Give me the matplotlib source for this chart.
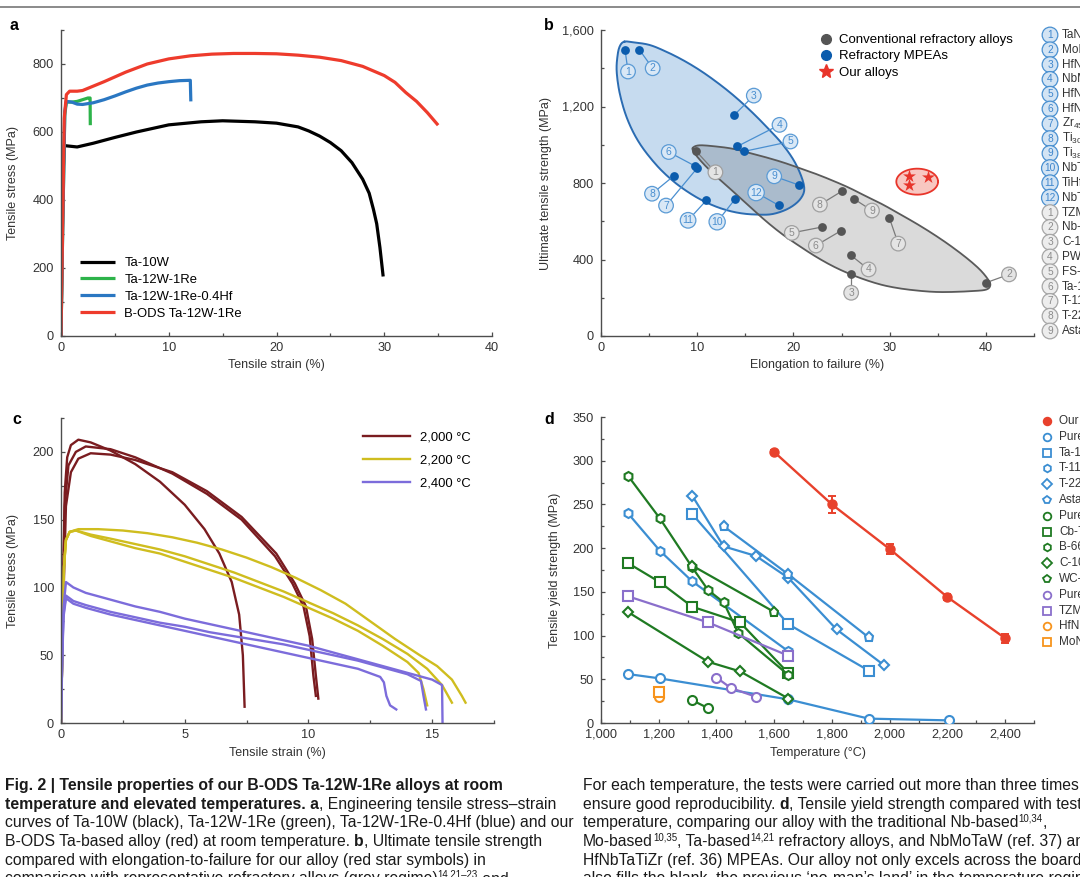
import numpy as np
import matplotlib
matplotlib.use("Agg")
import matplotlib.pyplot as plt
from matplotlib.ticker import MultipleLocator, FuncFormatter
from matplotlib.lines import Line2D
from matplotlib.font_manager import FontProperties

FAMILY = ['Liberation Sans', 'DejaVu Sans']
plt.rcParams['font.family'] = FAMILY
plt.rcParams['mathtext.fontset'] = 'custom'
plt.rcParams['mathtext.rm'] = 'Liberation Sans'

W, H = 1080, 877

# ---------------- panel a : room temperature stress-strain ----------------
a_labels = ['Ta-10W', 'Ta-12W-1Re', 'Ta-12W-1Re-0.4Hf', 'B-ODS Ta-12W-1Re']
a_colors = ['#000000', '#2db34a', '#2a77c2', '#ee3b2c']
ta10w_strain = [0, 0.1, 0.2, 0.3, 1.5, 3, 5, 7, 10, 13, 15, 18, 20, 22, 23, 24, 25, 26, 27, 28, 28.6, 29, 29.3, 29.6, 29.9]
ta10w_stress = [0, 250, 480, 560, 556, 567, 584, 600, 621, 630, 633, 630, 626, 615, 603, 588, 569, 545, 510, 461, 420, 372, 330, 260, 175]
ta12w_strain = [0, 0.15, 0.35, 0.5, 1.0, 1.5, 2.0, 2.5, 2.7, 2.72]
ta12w_stress = [0, 300, 650, 688, 688, 690, 695, 700, 700, 620]
tahf_strain = [0, 0.15, 0.35, 0.5, 1, 1.5, 2, 3, 4, 5, 6, 7, 8, 9, 10, 11, 12, 12.05]
tahf_stress = [0, 300, 660, 690, 688, 682, 681, 686, 695, 706, 718, 729, 738, 744, 748, 751, 752, 690]
ods_strain = [0, 0.15, 0.3, 0.5, 0.8, 1.5, 2, 3, 4, 5, 6, 8, 10, 12, 14, 16, 18, 20, 22, 24, 26, 28, 30, 31, 32, 33, 34, 35]
ods_stress = [0, 320, 640, 710, 720, 720, 722, 735, 748, 762, 776, 800, 815, 824, 829, 831, 831, 830, 826, 820, 810, 793, 766, 746, 716, 690, 657, 620]

# ---------------- panel b : UTS vs elongation ----------------
mpea_elong = [2.5, 4.0, 13.87, 14.15, 14.84, 9.8, 10.0, 7.59, 20.53, 13.97, 10.96, 18.48]
mpea_uts = [1496, 1496, 1157, 991, 965, 888, 878, 838, 790, 718, 710, 683]
mpea_tag_x = [2.81, 5.37, 15.88, 18.55, 19.69, 7.04, 6.76, 5.30, 18.0, 12.07, 9.05, 16.12]
mpea_tag_y = [1383, 1400, 1257, 1104, 1017, 962, 682, 744, 835, 597, 605, 750]
mpea_names = ['TaNbHfZrTi', 'MoNbTaTiZr', 'HfNbTaTiZr', 'NbMoTaW', 'HfNbTaZr', 'HfNbTiZr',
              r'Zr$_{45}$Ti$_{15}$Nb$_{30}$Ta$_{10}$', r'Ti$_{30}$Zr$_{30}$Hf$_{16}$Nb$_{24}$',
              r'Ti$_{38}$V$_{15}$Nb$_{23}$Hf$_{24}$', 'NbTaTiV', 'TiHfNbTaZr', 'NbTiZr']
conv_elong = [9.92, 39.98, 26.0, 26.0, 22.99, 24.93, 29.96, 25.03, 26.25]
conv_uts = [965, 278, 322, 421, 570, 550, 619, 757, 718]
conv_tag_x = [11.89, 42.4, 26.0, 27.81, 19.83, 22.33, 30.89, 22.75, 28.16]
conv_tag_y = [856, 322, 226, 348, 539, 473, 483, 687, 656]
conv_names = ['TZM', 'Nb-1Zr', 'C-103', 'PWC-11', 'FS-85', 'Ta-10W', 'T-111', 'T-222', 'Astar-811C']
ours_elong = [32.0, 33.98, 32.0]
ours_uts = [838, 830, 788]
# outlines of the shaded regions (read around their edges)
mpea_edge_x = [2.43, 3.29, 5.03, 6.76, 8.50, 10.23, 11.96, 13.70, 15.43, 17.16, 18.90, 20.28, 21.1,
               20.80, 19.6, 17.86, 16.12, 14.39, 12.66, 10.92, 9.19, 7.45, 5.72, 3.99, 2.77, 1.98,
               1.63, 1.73, 1.98]
mpea_edge_y = [1539, 1536, 1522, 1487, 1443, 1391, 1330, 1261, 1183, 1096, 1000, 896, 785,
               722, 670, 638, 635, 643, 664, 699, 748, 812, 896, 1009, 1130, 1261,
               1383, 1470, 1518]
conv_edge_x = [9.54, 10.23, 11.96, 13.70, 15.43, 17.16, 18.90, 20.63, 22.36, 24.10, 25.83, 27.57,
               29.30, 31.03, 32.77, 34.50, 36.23, 37.97, 39.36, 40.22, 40.46, 40.05, 38.66, 36.23,
               34.50, 32.77, 31.03, 29.30, 27.57, 25.83, 24.10, 22.36, 20.63, 18.90, 17.16, 15.43,
               13.70, 11.96, 10.58, 9.71]
conv_edge_y = [983, 997, 991, 979, 957, 934, 908, 878, 847, 812, 774, 730,
               687, 638, 588, 534, 475, 409, 348, 296, 266, 243, 235, 230,
               231, 238, 249, 266, 292, 325, 365, 414, 470, 530, 600, 678,
               757, 835, 904, 957]
ours_center = (32.86, 807)
ours_half = (2.17, 68)

# ---------------- panel c : high temperature stress-strain ----------------
c_temps = ['2,000 °C', '2,200 °C', '2,400 °C']
c_colors = ['#7a1c20', '#cfbd1f', '#7c6cdb']
c2000_strain = [
    [0, 0.08, 0.15, 0.25, 0.4, 0.7, 1.2, 2.0, 3.0, 4.0, 5.0, 5.8, 6.4, 6.9, 7.2, 7.35, 7.42],
    [0, 0.08, 0.15, 0.3, 0.6, 1.0, 2, 3, 4.5, 5.9, 7.3, 8.65, 9.35, 9.8, 10.05, 10.2, 10.3],
    [0, 0.08, 0.2, 0.4, 0.7, 1.2, 2, 3, 4.5, 5.9, 7.3, 8.7, 9.45, 9.9, 10.15, 10.3, 10.4]]
c2000_stress = [
    [0, 100, 170, 196, 205, 209, 207, 201, 191, 178, 161, 143, 125, 104, 80, 50, 12],
    [0, 90, 160, 190, 200, 204, 202, 196, 184, 169, 150, 123, 103, 86, 64, 35, 20],
    [0, 80, 160, 185, 195, 199, 198, 194, 185, 171, 152, 125, 103, 86, 62, 35, 18]]
c2200_strain = [
    [0, 0.06, 0.12, 0.2, 0.35, 0.7, 1.5, 2.5, 3.5, 4.5, 5.5, 6.5, 7.5, 8.5, 9.5, 10.5, 11.5, 12.5, 13.5, 14.5, 15.2, 15.8, 16.2, 16.35],
    [0, 0.06, 0.12, 0.2, 0.35, 0.6, 1.2, 2, 3, 4, 5, 6, 7, 8, 9, 10, 11, 12, 13, 14, 14.8, 15.4, 15.8],
    [0, 0.06, 0.12, 0.2, 0.35, 0.6, 1.2, 2, 3, 4, 5, 6, 7, 8, 9, 10, 11, 12, 13, 14, 14.45, 14.65, 14.8]]
c2200_stress = [
    [0, 60, 115, 135, 141, 143, 143, 142, 140, 137, 133, 128, 122, 115, 107, 98, 88, 75, 62, 50, 42, 32, 20, 15],
    [0, 60, 115, 135, 141, 142, 139, 136, 132, 128, 123, 117, 111, 104, 97, 89, 81, 72, 62, 51, 40, 28, 15],
    [0, 60, 115, 135, 141, 142, 138, 134, 129, 125, 119, 113, 107, 100, 93, 85, 77, 68, 57, 45, 37, 25, 13]]
c2400_strain = [
    [0, 0.05, 0.1, 0.2, 0.5, 1, 2, 3, 4, 5, 6, 7, 8, 9, 10, 11, 12, 13, 14, 15, 15.4, 15.42],
    [0, 0.05, 0.1, 0.2, 0.5, 1, 2, 3, 4, 5, 6, 7, 8, 9, 10, 11, 12, 13, 14, 14.55, 14.65, 14.75],
    [0, 0.05, 0.1, 0.2, 0.5, 1, 2, 3, 4, 5, 6, 7, 8, 9, 10, 11, 12, 12.9, 13.05, 13.15, 13.3, 13.55]]
c2400_stress = [
    [0, 50, 85, 104, 100, 96, 91, 86, 82, 77, 73, 69, 65, 61, 57, 52, 47, 42, 37, 32, 28, 0],
    [0, 50, 80, 94, 90, 87, 82, 78, 74, 71, 67, 64, 61, 58, 54, 50, 46, 41, 36, 31, 20, 10],
    [0, 45, 78, 92, 88, 85, 80, 76, 72, 68, 64, 60, 56, 52, 48, 44, 40, 34, 30, 20, 13, 10]]

# ---------------- panel d : yield strength vs temperature ----------------
ours_temp = [1600, 1800, 2000, 2200, 2400]
ours_ys = [310, 250, 199, 144, 97]
ours_err = [2, 10, 6, 3, 5]
pure_ta_temp = [1093, 1204, 1649, 1927, 2204]
pure_ta_ys = [56, 51, 27, 5, 3]
ta10w_temp = [1316, 1649, 1927]
ta10w_ys = [239, 113, 60]
t111_temp = [1093, 1204, 1316, 1649]
t111_ys = [240, 197, 162, 82]
t222_temp = [1316, 1425, 1537, 1649, 1816, 1981]
t222_ys = [260, 202, 191, 166, 107, 66]
astar_temp = [1425, 1649, 1927]
astar_ys = [225, 170, 98]
pure_nb_temp = [1316, 1371]
pure_nb_ys = [26, 17]
cb752_temp = [1093, 1204, 1316, 1482, 1649]
cb752_ys = [183, 161, 133, 115, 57]
b66_temp = [1093, 1204, 1316, 1371, 1425, 1475, 1649]
b66_ys = [283, 234, 178, 152, 138, 103, 55]
c103_temp = [1093, 1371, 1482, 1649]
c103_ys = [127, 70, 59, 28]
wc3009_temp = [1316, 1600]
wc3009_ys = [180, 127]
pure_mo_temp = [1400, 1450, 1537]
pure_mo_ys = [52, 40, 30]
tzm_temp = [1093, 1371, 1649]
tzm_ys = [145, 115, 77]
hfnb_temp = [1200]
hfnb_ys = [30]
monb_temp = [1200]
monb_ys = [35]
d_names = ['Our alloy', 'Pure Ta', 'Ta-10W', 'T-111', 'T-222', 'Astar-811C', 'Pure Nb', 'Cb-752',
           'B-66', 'C-103', 'WC-3009', 'Pure Mo', 'TZM', 'HfNbTaTiZr', 'MoNbTaW']

BLUE, GREEN, PURPLE, ORANGE, RED = '#3b8ed2', '#1f7a22', '#8a6fcb', '#f7941d', '#e8412c'
d_series = [
    (pure_ta_temp, pure_ta_ys, 'o', BLUE), (ta10w_temp, ta10w_ys, 's', BLUE),
    (t111_temp, t111_ys, 'h', BLUE), (t222_temp, t222_ys, 'D', BLUE),
    (astar_temp, astar_ys, 'p', BLUE), (pure_nb_temp, pure_nb_ys, 'o', GREEN),
    (cb752_temp, cb752_ys, 's', GREEN), (b66_temp, b66_ys, 'h', GREEN),
    (c103_temp, c103_ys, 'D', GREEN), (wc3009_temp, wc3009_ys, 'p', GREEN),
    (pure_mo_temp, pure_mo_ys, 'o', PURPLE), (tzm_temp, tzm_ys, 's', PURPLE),
    (hfnb_temp, hfnb_ys, 'o', ORANGE), (monb_temp, monb_ys, 's', ORANGE)]

# ---------------- caption ----------------
CAPTION_LEFT = [
    [('Fig. 2 | Tensile properties of our B-ODS Ta-12W-1Re alloys at room', 'b')],
    [('temperature and elevated temperatures. a', 'b'), (', Engineering tensile stress\u2013strain', 'n')],
    [('curves of Ta-10W (black), Ta-12W-1Re (green), Ta-12W-1Re-0.4Hf (blue) and our', 'n')],
    [('B-ODS Ta-based alloy (red) at room temperature. ', 'n'), ('b', 'b'), (', Ultimate tensile strength', 'n')],
    [('compared with elongation-to-failure for our alloy (red star symbols) in', 'n')],
    [('comparison with representative refractory alloys (grey regime)', 'n'), ('14,21\u201323', 'sup'), (' and', 'n')],
]
CAPTION_RIGHT = [
    [('For each temperature, the tests were carried out more than three times to', 'n')],
    [('ensure good reproducibility. ', 'n'), ('d', 'b'), (', Tensile yield strength compared with test', 'n')],
    [('temperature, comparing our alloy with the traditional Nb-based', 'n'), ('10,34', 'sup'), (',', 'n')],
    [('Mo-based', 'n'), ('10,35', 'sup'), (', Ta-based', 'n'), ('14,21', 'sup'),
     (' refractory alloys, and NbMoTaW (ref. 37) and', 'n')],
    [('HfNbTaTiZr (ref. 36) MPEAs. Our alloy not only excels across the board but', 'n')],
    [('also fills the blank, the previous \u2018no-man\u2019s land\u2019 in the temperature regime', 'n')],
]

SPINE = '#4d4d4d'
TICKTXT = '#333333'


def px_axes(fig, left, top, right, bottom):
    return fig.add_axes([left / W, 1 - bottom / H, (right - left) / W, (bottom - top) / H])


def style_axes(ax, xmaj, xmin, ymaj, ymin):
    for s in ['top', 'right']:
        ax.spines[s].set_visible(False)
    for s in ['left', 'bottom']:
        ax.spines[s].set_color(SPINE)
        ax.spines[s].set_linewidth(1.0)
    ax.xaxis.set_major_locator(MultipleLocator(xmaj))
    ax.xaxis.set_minor_locator(MultipleLocator(xmin))
    ax.yaxis.set_major_locator(MultipleLocator(ymaj))
    ax.yaxis.set_minor_locator(MultipleLocator(ymin))
    fmt = FuncFormatter(lambda v, p: f'{v:,.0f}')
    ax.xaxis.set_major_formatter(fmt)
    ax.yaxis.set_major_formatter(fmt)
    ax.tick_params(which='both', direction='in', color=SPINE, labelcolor=TICKTXT,
                   labelsize=9.2, width=0.9)
    ax.tick_params(which='major', length=3)
    ax.tick_params(which='minor', length=2)
    ax.tick_params(axis='y', pad=5)
    ax.tick_params(axis='x', pad=4)


def set_labels(ax, xl, yl, ylx, xly):
    ax.set_xlabel(xl, fontsize=9, color=TICKTXT)
    ax.set_ylabel(yl, fontsize=9, color=TICKTXT)
    ax.yaxis.set_label_coords(ylx, 0.5)
    ax.xaxis.set_label_coords(0.5, xly)


def closed_spline(xs, ys, per=10):
    # periodic Catmull-Rom curve through the outline points
    p = np.column_stack([xs, ys]).astype(float)
    n = len(p)
    t = np.linspace(0, 1, per, endpoint=False)[:, None]
    segs = []
    for i in range(n):
        p0, p1, p2, p3 = p[(i - 1) % n], p[i], p[(i + 1) % n], p[(i + 2) % n]
        segs.append(0.5 * (2 * p1 + (p2 - p0) * t + (2 * p0 - 5 * p1 + 4 * p2 - p3) * t ** 2
                           + (3 * p1 - p0 - 3 * p2 + p3) * t ** 3))
    out = np.vstack(segs + [p[:1]])
    return out[:, 0], out[:, 1]


fig = plt.figure(figsize=(W / 100, H / 100), dpi=100)

# ---- a
ax = px_axes(fig, 61, 30, 492, 336)
style_axes(ax, 10, 5, 200, 100)
ax.set_xlim(0, 40)
ax.set_ylim(0, 900)
for xs, ys, c, lab in zip([ta10w_strain, ta12w_strain, tahf_strain, ods_strain],
                          [ta10w_stress, ta12w_stress, tahf_stress, ods_stress], a_colors, a_labels):
    ax.plot(xs, ys, color=c, lw=2.3, label=lab, solid_joinstyle='round', solid_capstyle='butt')
ax.legend(loc='upper left', bbox_to_anchor=(80 / W, 1 - 257 / H), bbox_transform=fig.transFigure,
          frameon=False, fontsize=9.4, handlelength=2.7, handletextpad=0.7, labelspacing=0.36,
          borderpad=0, borderaxespad=0)
set_labels(ax, 'Tensile strain (%)', 'Tensile stress (MPa)', -0.097, -0.074)

# ---- b
ax = px_axes(fig, 601, 30, 1034, 336)
style_axes(ax, 10, 5, 400, 200)
ax.set_xlim(0, 45)
ax.set_ylim(0, 1600)
rx, ry = closed_spline(mpea_edge_x, mpea_edge_y)
ax.fill(rx, ry, color='#2e7cc4', alpha=0.27, lw=0, zorder=1)
ax.plot(rx, ry, color='#2b6cb2', lw=1.4, zorder=2)
gx, gy = closed_spline(conv_edge_x, conv_edge_y)
ax.fill(gx, gy, color='#0a0a0a', alpha=0.15, lw=0, zorder=1.5)
ax.plot(gx, gy, color='#5a5a5a', lw=1.3, zorder=2)
tt = np.linspace(0, 2 * np.pi, 200)
ox = ours_center[0] + ours_half[0] * np.cos(tt)
oy = ours_center[1] + ours_half[1] * np.sin(tt)
ax.fill(ox, oy, color='#f8c7c1', lw=0, zorder=1)
ax.plot(ox, oy, color='#e8352a', lw=1.3, zorder=2)
for i, (px_, py_, lx, ly) in enumerate(zip(mpea_elong, mpea_uts, mpea_tag_x, mpea_tag_y)):
    ax.plot([px_, lx], [py_, ly], color='#4a8fd0', lw=0.9, zorder=3)
    ax.text(lx, ly, str(i + 1), ha='center', va='center', fontsize=7.5, color='#4a8fd0', zorder=4,
            bbox=dict(boxstyle='circle,pad=0.22', fc='#d9e8f6', ec='#5b9bd5', lw=0.9))
for i, (px_, py_, lx, ly) in enumerate(zip(conv_elong, conv_uts, conv_tag_x, conv_tag_y)):
    ax.plot([px_, lx], [py_, ly], color='#7a7a7a', lw=0.9, zorder=3)
    ax.text(lx, ly, str(i + 1), ha='center', va='center', fontsize=7.5, color='#8c8c8c', zorder=4,
            bbox=dict(boxstyle='circle,pad=0.22', fc='#e4e4e4', ec='#a0a0a0', lw=0.9))
ax.scatter(conv_elong, conv_uts, s=40, color='#555555', zorder=5, lw=0)
ax.scatter(mpea_elong, mpea_uts, s=40, color='#0b5cad', zorder=5, lw=0)
ax.scatter(ours_elong, ours_uts, s=95, marker='*', color='#e8342a', zorder=5, lw=0)
handles = [Line2D([], [], ls='none', marker='o', ms=7, color='#555555'),
           Line2D([], [], ls='none', marker='o', ms=7, color='#0b5cad'),
           Line2D([], [], ls='none', marker='*', ms=10, color='#e8342a')]
ax.legend(handles, ['Conventional refractory alloys', 'Refractory MPEAs', 'Our alloys'],
          loc='upper left', bbox_to_anchor=(819 / W, 1 - 34 / H), bbox_transform=fig.transFigure,
          frameon=False, fontsize=9.5, handlelength=1.0, handletextpad=0.55, labelspacing=0.3,
          borderpad=0, borderaxespad=0)
set_labels(ax, 'Elongation to failure (%)', 'Ultimate tensile strength (MPa)', -0.113, -0.074)

# ---- c
ax = px_axes(fig, 61, 418, 494, 723)
style_axes(ax, 5, 2.5, 50, 25)
ax.set_xlim(0, 17.5)
ax.set_ylim(0, 225)
for strains, stresses, c, lab in zip([c2000_strain, c2200_strain, c2400_strain],
                                     [c2000_stress, c2200_stress, c2400_stress], c_colors, c_temps):
    for k, (xs, ys) in enumerate(zip(strains, stresses)):
        ax.plot(xs, ys, color=c, lw=1.7, label=lab if k == 0 else None, solid_joinstyle='round')
ax.legend(loc='upper left', bbox_to_anchor=(363 / W, 1 - 431 / H), bbox_transform=fig.transFigure,
          frameon=False, fontsize=9.4, handlelength=3.6, handletextpad=0.75, labelspacing=0.84,
          borderpad=0, borderaxespad=0)
set_labels(ax, 'Tensile strain (%)', 'Tensile stress (MPa)', -0.097, -0.078)

# ---- d
ax = px_axes(fig, 601, 417, 1034, 723)
style_axes(ax, 200, 100, 50, 25)
ax.set_xlim(1000, 2500)
ax.set_ylim(0, 350)
for ts, ys, m, c in d_series:
    ax.plot(ts, ys, color=c, lw=1.6, marker=m, ms=6.5 if m != 'D' else 5.5, mfc='white', mec=c,
            mew=1.5, zorder=3)
ax.errorbar(ours_temp, ours_ys, yerr=ours_err, fmt='o-', color=RED, ms=6.5, lw=1.7,
            elinewidth=1.4, capsize=3, capthick=1.4, zorder=4)
set_labels(ax, 'Temperature (\u00b0C)', 'Tensile yield strength (MPa)', -0.0935, -0.078)

# ---- overlay in pixel coordinates: rule, letters, side lists, caption
ov = fig.add_axes([0, 0, 1, 1])
ov.set_xlim(0, W)
ov.set_ylim(H, 0)
ov.axis('off')
ov.set_zorder(10)
ov.plot([0, W], [7, 7], color='#6b6b6b', lw=1.1)
for lt, (lx, ly) in zip('abcd', [(10, 25), (544, 25), (12, 420), (544, 420)]):
    ov.text(lx, ly, lt, fontsize=11.5, fontweight='bold', ha='left', va='center')

# numbered list of panel b
b_list = [(str(i + 1), n, 'mpea') for i, n in enumerate(mpea_names)] + \
         [(str(i + 1), n, 'conv') for i, n in enumerate(conv_names)]
for k, (num, name, kind) in enumerate(b_list):
    y = 35 + k * 14.8
    if kind == 'mpea':
        st = dict(color='#3f86cc', bbox=dict(boxstyle='circle,pad=0.28', fc='#d3e4f4', ec='#4a90d0', lw=0.9))
    else:
        st = dict(color='#8c8c8c', bbox=dict(boxstyle='circle,pad=0.28', fc='#ededed', ec='#a6a6a6', lw=0.9))
    ov.text(1050, y, num, fontsize=7.3, ha='center', va='center', **st)
    ov.text(1062, y, name, fontsize=8.5, color='#333333', ha='left', va='center')

# legend list of panel d
d_markers = [('o', RED, True)] + [(m, c, False) for _, _, m, c in d_series]
for k, ((m, c, filled), name) in enumerate(zip(d_markers, d_names)):
    y = 421 + k * 15.8
    ov.plot([1047], [y], marker=m, ms=5.5 if m != 'D' else 4.8, mec=c, mfc=c if filled else 'white',
            mew=1.3, ls='none')
    ov.text(1059, y, name, fontsize=8.5, color='#333333', ha='left', va='center')

# caption
renderer = fig.canvas.get_renderer()


def text_width(s, size, weight):
    fp = FontProperties(family=FAMILY, size=size, weight=weight)
    w1 = renderer.get_text_width_height_descent('|' + s + '|', fp, ismath=False)[0]
    w0 = renderer.get_text_width_height_descent('||', fp, ismath=False)[0]
    return w1 - w0


cap_size = 10 * 570 / text_width(CAPTION_LEFT[2][0][0], 10, 'normal')
CAPCOL = '#1a1a1a'


def draw_runs(x, y, runs):
    for s, kind in runs:
        if kind == 'sup':
            size = cap_size * 0.62
            ov.text(x, y - cap_size * 1.389 * 0.36, s, fontsize=size, color=CAPCOL, va='baseline')
            x += text_width(s, size, 'normal')
        else:
            wt = 'bold' if kind == 'b' else 'normal'
            ov.text(x, y, s, fontsize=cap_size, fontweight=wt, color=CAPCOL, va='baseline')
            x += text_width(s, cap_size, wt)


for i, runs in enumerate(CAPTION_LEFT):
    draw_runs(5, 790 + i * 18.7, runs)
for i, runs in enumerate(CAPTION_RIGHT):
    draw_runs(583, 790 + i * 18.7, runs)

fig.savefig('out.png', dpi=100)
